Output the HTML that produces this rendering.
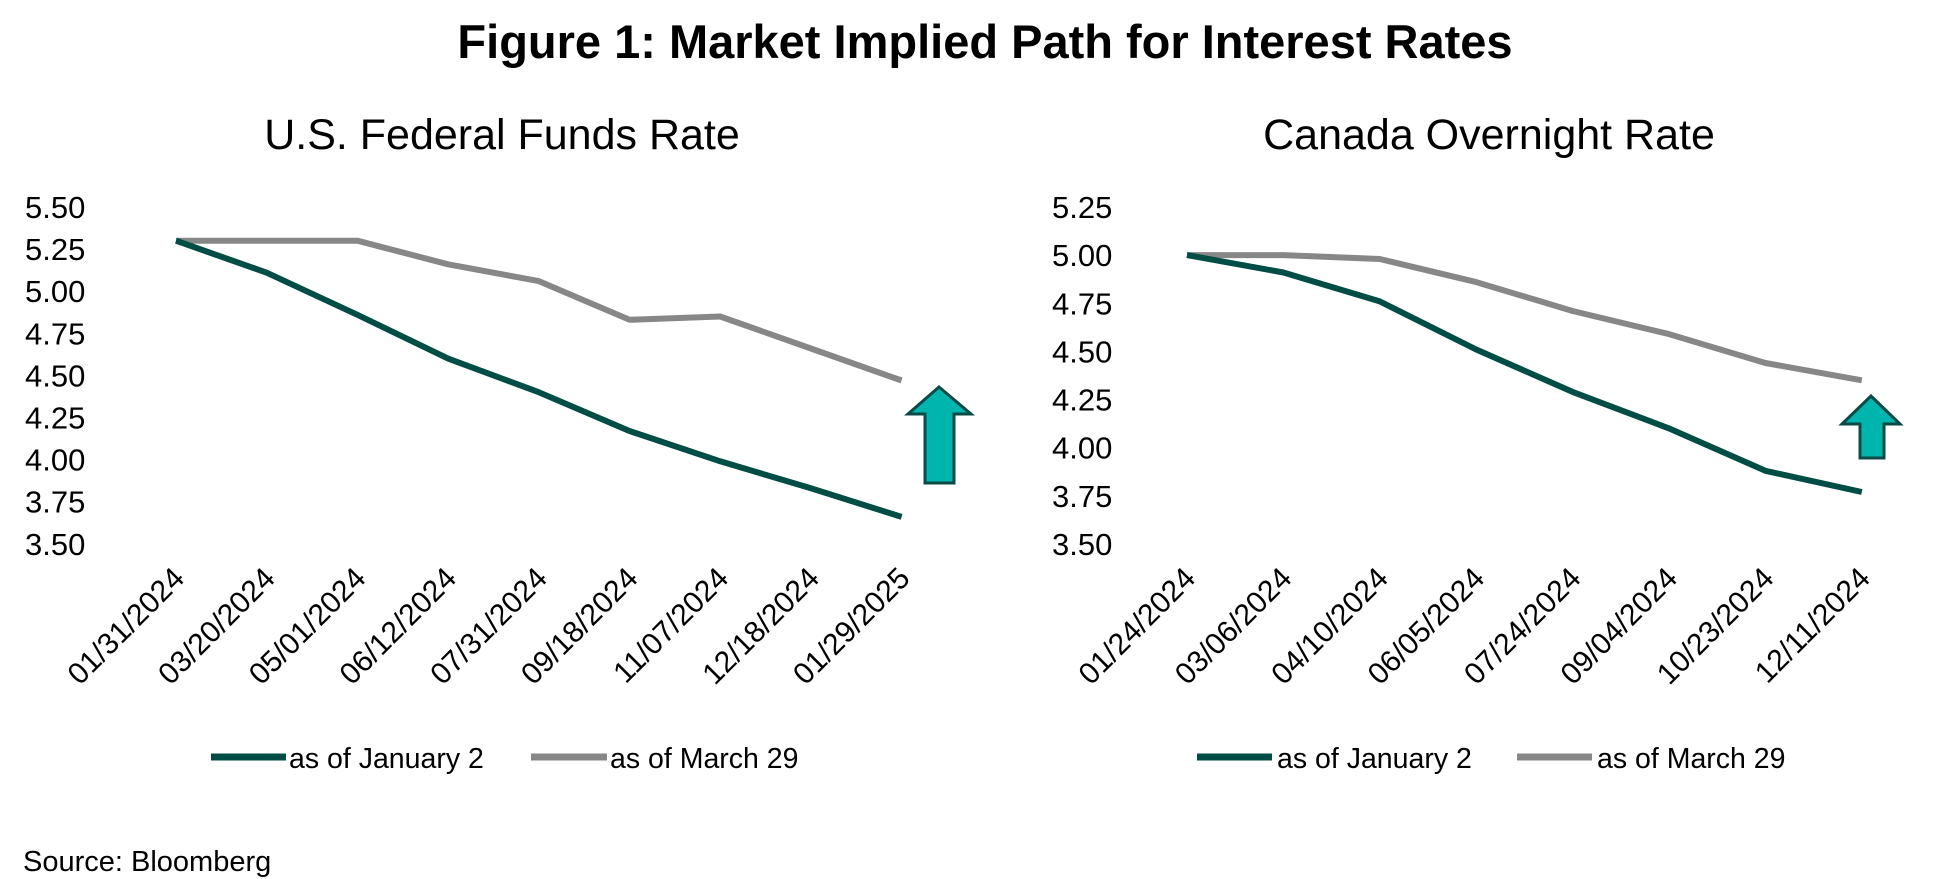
<!DOCTYPE html>
<html><head><meta charset="utf-8"><style>
html,body{margin:0;padding:0;background:#fff;}
svg{display:block;font-family:"Liberation Sans",sans-serif;}
</style></head><body>
<svg id="s" width="1959" height="879" viewBox="0 0 1959 879" xmlns="http://www.w3.org/2000/svg">
<text x="985" y="58" text-anchor="middle" font-size="47" font-weight="bold" fill="#000">Figure 1: Market Implied Path for Interest Rates</text>
<text x="502" y="149" text-anchor="middle" font-size="43" fill="#000">U.S. Federal Funds Rate</text>
<text x="1489" y="149" text-anchor="middle" font-size="43" fill="#000">Canada Overnight Rate</text>
<g id="g"></g>
<polygon points="939,387 971,414 954,414 954,483 925,483 925,414 908,414" fill="#00b5ad" stroke="#0b4a45" stroke-width="3"/>
<polygon points="1871,396 1900,424 1884,424 1884,458 1860,458 1860,424 1842,424" fill="#00b5ad" stroke="#0b4a45" stroke-width="3"/>
<line x1="211" y1="757" x2="286" y2="757" stroke="#004d45" stroke-width="7"/>
<text x="289" y="768" font-size="28.5">as of January 2</text>
<line x1="531" y1="757" x2="607" y2="757" stroke="#878787" stroke-width="7"/>
<text x="610" y="768" font-size="28.5">as of March 29</text>
<line x1="1197" y1="757" x2="1272" y2="757" stroke="#004d45" stroke-width="7"/>
<text x="1277" y="768" font-size="28.5">as of January 2</text>
<line x1="1517" y1="757" x2="1592" y2="757" stroke="#878787" stroke-width="7"/>
<text x="1597" y="768" font-size="28.5">as of March 29</text>
<text x="23" y="871" font-size="29">Source: Bloomberg</text>
</svg>
<script>
var g=document.getElementById('g'),h='';
function chart(x0,dx,top,step,max,nt,lblx,dates,a,b){
 for(var i=0;i<nt;i++){var v=max-0.25*i;h+='<text x="'+lblx+'" y="'+(top+step*i+11)+'" font-size="31">'+v.toFixed(2)+'</text>';}
 function Y(v){return top+(max-v)/0.25*step;}
 [[b,'#878787'],[a,'#004d45']].forEach(function(s){
  var p=s[0].map(function(v,i){return (x0+dx*i).toFixed(1)+','+Y(v).toFixed(1)}).join(' ');
  h+='<polyline points="'+p+'" fill="none" stroke="'+s[1]+'" stroke-width="6" stroke-linejoin="round"/>';});
 dates.forEach(function(d,i){var x=x0+dx*i+10,y=580;
  h+='<text x="'+x+'" y="'+y+'" font-size="30" text-anchor="end" transform="rotate(-45 '+x+' '+y+')">'+d+'</text>';});
}
chart(176,90.7,207,42.1,5.5,9,25,['01/31/2024','03/20/2024','05/01/2024','06/12/2024','07/31/2024','09/18/2024','11/07/2024','12/18/2024','01/29/2025'],
 [5.30,5.11,4.86,4.60,4.40,4.17,3.99,3.83,3.66],[5.30,5.30,5.30,5.16,5.06,4.83,4.85,4.66,4.47]);
chart(1187,96.4,207,48.14,5.25,8,1052,['01/24/2024','03/06/2024','04/10/2024','06/05/2024','07/24/2024','09/04/2024','10/23/2024','12/11/2024'],
 [5.00,4.91,4.76,4.51,4.29,4.10,3.88,3.77],[5.00,5.00,4.98,4.86,4.71,4.59,4.44,4.35]);
g.innerHTML=h;
</script>
</body></html>
